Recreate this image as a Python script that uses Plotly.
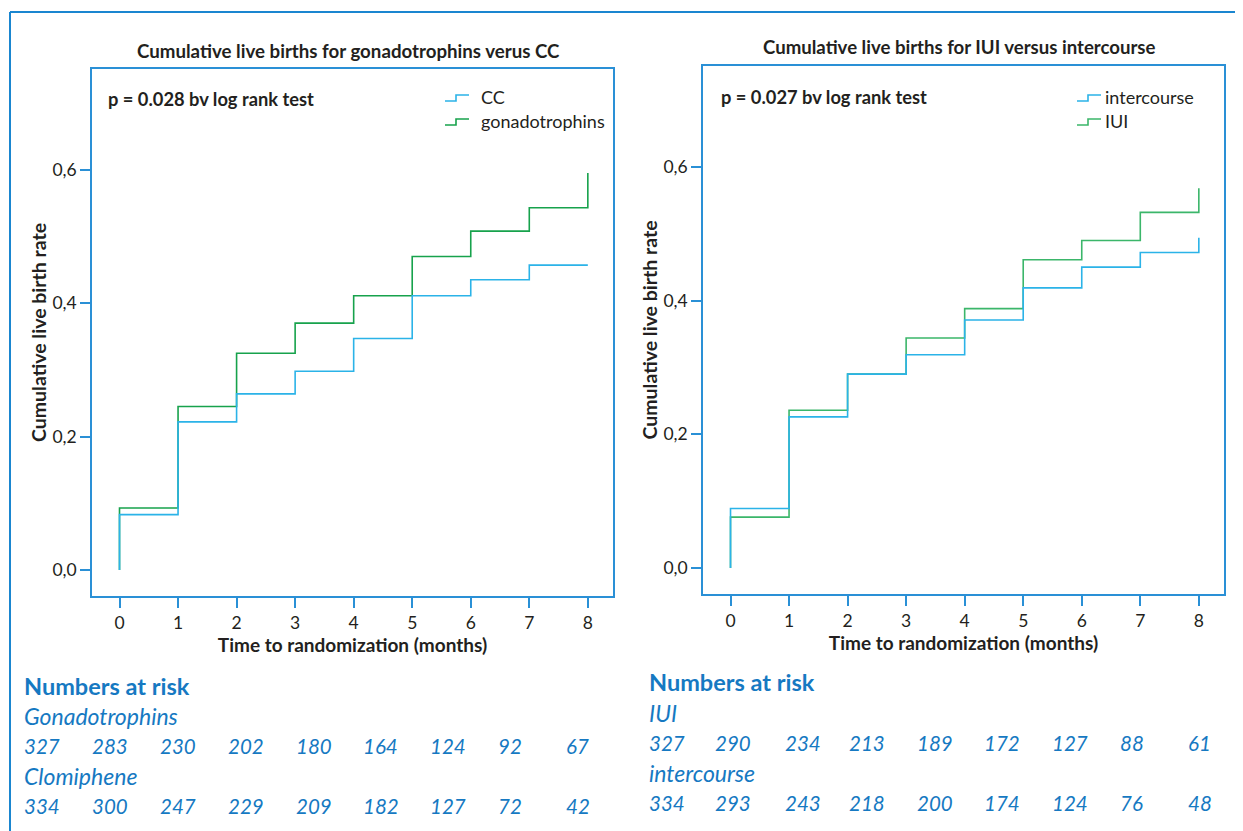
import plotly.graph_objects as go

# page body has an 8px margin: figure is drawn 8px in from the top-left
OFF = 8
W, H = 1243 - OFF, 831 - OFF

# ---------------- data ----------------
months = [0, 1, 2, 3, 4, 5, 6, 7, 8]
cc_rate = [0.083, 0.222, 0.264, 0.298, 0.347, 0.411, 0.435, 0.457, 0.457]
gonado_rate = [0.093, 0.245, 0.325, 0.370, 0.411, 0.470, 0.508, 0.543, 0.595]
intercourse_rate = [0.089, 0.226, 0.290, 0.319, 0.371, 0.419, 0.450, 0.472, 0.494]
iui_rate = [0.076, 0.236, 0.290, 0.344, 0.388, 0.461, 0.490, 0.532, 0.568]

risk_gonado = [327, 283, 230, 202, 180, 164, 124, 92, 67]
risk_clomiphene = [334, 300, 247, 229, 209, 182, 127, 72, 42]
risk_iui = [327, 290, 234, 213, 189, 172, 127, 88, 61]
risk_intercourse = [334, 293, 243, 218, 200, 174, 124, 76, 48]

y_ticks = [0.0, 0.2, 0.4, 0.6]

# ---------------- style ----------------
FONT = "Lato, Open Sans, sans-serif"
DARK = "#231f20"
AXIS = "#2a90d6"
FRAME = "#1a86d0"
BLUE_LINE = "#2bb3e8"
GREEN_LINE = "#17a24c"
GREEN_LINE2 = "#3bb66a"
RISK_BLUE = "#1679c2"


def px(x):
    return (x - OFF) / W


def py(y):
    return 1 - (y - OFF) / H


fig = go.Figure()

def add_curve(vals, color, xa, ya, name):
    fig.add_trace(go.Scatter(
        x=[months[0]] + months, y=[0.0] + vals, mode="lines", line_shape="hv",
        line=dict(color=color, width=1.6), xaxis=xa, yaxis=ya, name=name,
        showlegend=False, hoverinfo="x+y"))

add_curve(gonado_rate, GREEN_LINE, "x", "y", "gonadotrophins")
add_curve(cc_rate, BLUE_LINE, "x", "y", "CC")
add_curve(iui_rate, GREEN_LINE2, "x2", "y2", "IUI")
add_curve(intercourse_rate, BLUE_LINE, "x2", "y2", "intercourse")

axis_common = dict(
    showline=True, linecolor=AXIS, linewidth=1.6, mirror=True,
    ticks="outside", tickcolor=AXIS, tickwidth=1.6, ticklen=10,
    showgrid=False, zeroline=False, automargin=False,
    tickfont=dict(family=FONT, size=17.5, color=DARK),
)

xt = dict(tickvals=months, range=[-0.47, 8.43], **axis_common)
yt = dict(tickvals=y_ticks, tickformat=".1f", range=[-0.039, 0.751], **axis_common)

xtitle = dict(text="<b>Time to randomization (months)</b>",
              font=dict(family=FONT, size=19, color=DARK), standoff=6)
ytitle = dict(text="<b>Cumulative live birth rate</b>",
              font=dict(family=FONT, size=19.5, color=DARK), standoff=1)

fig.update_layout(
    width=W, height=H,
    margin=dict(l=0, r=0, t=0, b=0),
    paper_bgcolor="white", plot_bgcolor="white",
    separators=",.",
    showlegend=False,
    font=dict(family=FONT, color=DARK),
    xaxis=dict(domain=[px(92), px(613)], anchor="y", title=xtitle, **xt),
    yaxis=dict(domain=[py(596), py(69)], anchor="x", title=ytitle, **yt),
    xaxis2=dict(domain=[px(703), px(1224)], anchor="y2", title=xtitle, **xt),
    yaxis2=dict(domain=[py(594), py(66)], anchor="x2", title=ytitle, **yt),
)

shapes = []
shapes.append(dict(type="line", xref="paper", yref="paper", x0=px(10), x1=1.0,
                   y0=py(12), y1=py(12), line=dict(color=FRAME, width=2)))
shapes.append(dict(type="line", xref="paper", yref="paper", x0=px(10), x1=px(10),
                   y0=py(12), y1=0, line=dict(color=FRAME, width=2)))

annotations = []

def text(x, y, s, size, color=DARK, xanchor="left", bold=False, italic=False):
    if bold:
        s = "<b>" + s + "</b>"
    if italic:
        s = "<i>" + s + "</i>"
    annotations.append(dict(x=px(x), y=py(y), xref="paper", yref="paper", text=s,
                            showarrow=False, xanchor=xanchor, yanchor="middle",
                            font=dict(family=FONT, size=size, color=color)))

def legend_icon(x0, yc, color):
    xm = x0 + 11
    x1 = x0 + 24
    path = (f"M {px(x0)},{py(yc + 3)} L {px(xm)},{py(yc + 3)} "
            f"L {px(xm)},{py(yc - 3)} L {px(x1)},{py(yc - 3)}")
    shapes.append(dict(type="path", xref="paper", yref="paper", path=path,
                       line=dict(color=color, width=1.6)))

text(349, 51, "Cumulative live births for gonadotrophins verus CC", 18.7, xanchor="center", bold=True)
text(959, 47, "Cumulative live births for IUI versus intercourse", 18.6, xanchor="center", bold=True)

text(106, 99, "p = 0.028 bv log rank test", 18.3, bold=True)
text(719, 97, "p = 0.027 bv log rank test", 18.3, bold=True)

legend_icon(445, 98, BLUE_LINE)
text(479, 97, "CC", 18)
legend_icon(445, 122, GREEN_LINE)
text(479, 121, "gonadotrophins", 18)
legend_icon(1077, 98, BLUE_LINE)
text(1103, 97, "intercourse", 18)
legend_icon(1077, 122, GREEN_LINE2)
text(1103, 121, "IUI", 18)

left_cols = [22, 90, 158, 226, 294, 361, 428, 496, 564]
right_cols = [647, 713, 783, 847, 915, 982, 1050, 1118, 1186]

LBL, NUM = 23, 20.5
text(22, 686, "Numbers at risk", 23.5, color=RISK_BLUE, bold=True)
text(22, 716, "Gonadotrophins", LBL, color=RISK_BLUE, italic=True)
for xc, v in zip(left_cols, risk_gonado):
    text(xc, 746, str(v), NUM, color=RISK_BLUE, italic=True)
text(22, 776, "Clomiphene", LBL, color=RISK_BLUE, italic=True)
for xc, v in zip(left_cols, risk_clomiphene):
    text(xc, 806, str(v), NUM, color=RISK_BLUE, italic=True)

text(647, 682, "Numbers at risk", 23.5, color=RISK_BLUE, bold=True)
text(647, 713, "IUI", LBL, color=RISK_BLUE, italic=True)
for xc, v in zip(right_cols, risk_iui):
    text(xc, 743, str(v), NUM, color=RISK_BLUE, italic=True)
text(647, 773, "intercourse", LBL, color=RISK_BLUE, italic=True)
for xc, v in zip(right_cols, risk_intercourse):
    text(xc, 803, str(v), NUM, color=RISK_BLUE, italic=True)

fig.update_layout(shapes=shapes, annotations=annotations)

fig.write_html("out.html")
